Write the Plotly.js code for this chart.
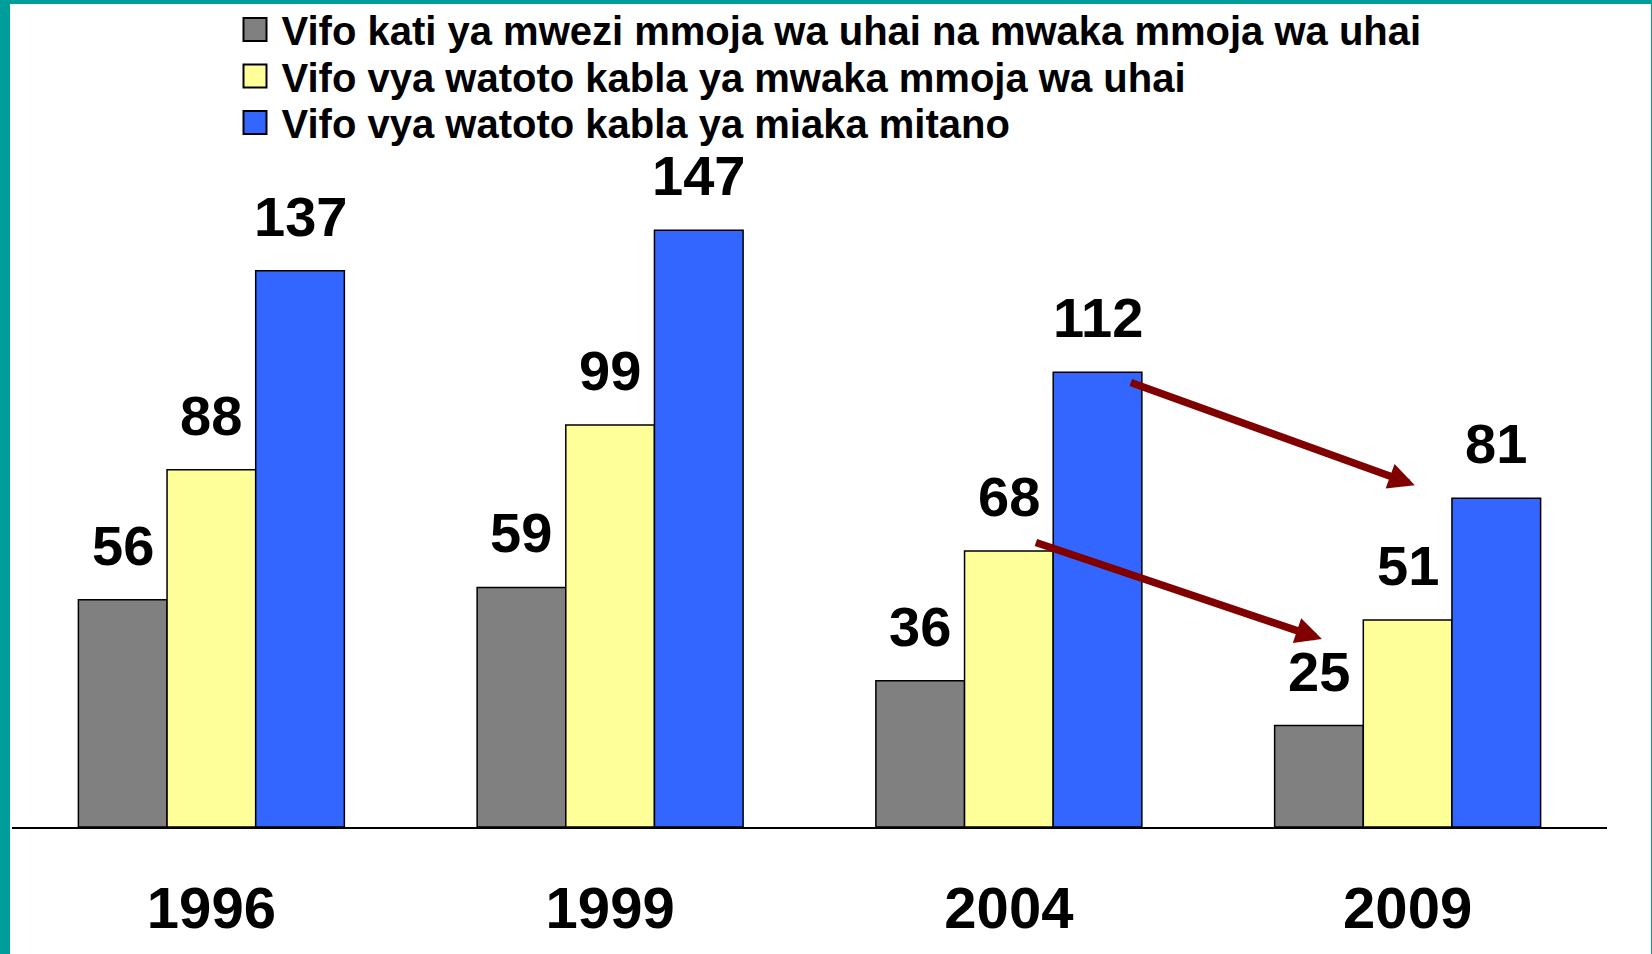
<!DOCTYPE html>
<html>
<head>
<meta charset="utf-8">
<script src="https://cdn.plot.ly/plotly-3.0.1.min.js"></script>
<style>
  html, body { margin: 0; padding: 0; background: #ffffff; }
  #frame { position: absolute; left: 0; top: 0; width: 1652px; height: 954px; background: #009E9A; }
  #chart { position: absolute; left: 10px; top: 4px; width: 1641px; height: 950px; background: #ffffff; }
</style>
</head>
<body>
<div id="frame"><div id="chart"></div></div>
<script>
// ---- data ----
const years = ['1996', '1999', '2004', '2009'];
const seriesNames = [
  'Vifo kati ya mwezi mmoja wa uhai na mwaka mmoja wa uhai',
  'Vifo vya watoto kabla ya mwaka mmoja wa uhai',
  'Vifo vya watoto kabla ya miaka mitano'
];
const neonatalPostnatal = [56, 59, 36, 25];
const infantMortality = [88, 99, 68, 51];
const underFiveMortality = [137, 147, 112, 81];
const seriesValues = [neonatalPostnatal, infantMortality, underFiveMortality];
const seriesColors = ['#808080', '#FFFF99', '#3366FF'];

// arrows (decorations): tail -> head, in year-slot / value units
const arrowTailX = [2.302, 2.064];
const arrowTailY = [109.6, 70.2];
const arrowHeadX = [3.018, 2.785];
const arrowHeadY = [84.2, 46.3];

const FONT = 'Liberation Sans, Arial, sans-serif';
const slots = years.map((_, i) => i);
const legendIds = ['legend', 'legend2', 'legend3'];
const legendRowY = [25.5, 72, 118.5]; // row centres, px from top of chart div
const PLOT_T = 11, PLOT_H = 812;

const traces = seriesValues.map((vals, i) => ({
  type: 'bar',
  name: seriesNames[i],
  x: slots,
  y: vals,
  legend: legendIds[i],
  marker: { color: seriesColors[i], line: { color: '#000000', width: 1.5 } },
  hoverinfo: 'skip'
}));

const barPx = 398.75 * (1 - 0.333) / 3;
const annotations = [];
seriesValues.forEach((vals, i) => {
  vals.forEach((v, j) => {
    annotations.push({
      x: slots[j], y: v, xref: 'x', yref: 'y',
      text: String(v), showarrow: false,
      xshift: (i - 1) * barPx, yshift: 21, yanchor: 'bottom',
      font: { family: FONT, size: 56, color: '#000000', weight: 700 }
    });
  });
});
arrowTailX.forEach((tx, k) => {
  annotations.push({
    x: arrowHeadX[k], y: arrowHeadY[k], xref: 'x', yref: 'y',
    ax: tx, ay: arrowTailY[k], axref: 'x', ayref: 'y',
    text: '', showarrow: true, arrowhead: 2, arrowsize: 0.7,
    arrowwidth: 7.5, arrowcolor: '#800000', standoff: 0
  });
});

const layout = {
  width: 1641, height: 950,
  margin: { l: 2, r: 44, t: PLOT_T, b: 950 - PLOT_T - PLOT_H, autoexpand: false },
  paper_bgcolor: '#ffffff', plot_bgcolor: '#ffffff',
  barmode: 'group', bargap: 0.333, bargroupgap: 0,
  showlegend: true,
  xaxis: {
    type: 'linear', range: [-0.5, years.length - 0.5],
    tickmode: 'array', tickvals: slots, ticktext: years,
    showline: true, linecolor: '#000000', linewidth: 2,
    showgrid: false, zeroline: false, ticks: '', ticklabelstandoff: 29,
    tickfont: { family: FONT, size: 58, color: '#000000', weight: 700 },
    fixedrange: true
  },
  yaxis: { range: [0, 200], visible: false, fixedrange: true },
  annotations: annotations
};
legendIds.forEach((id, i) => {
  layout[id] = {
    x: (218.5 - 2) / 1595, xanchor: 'left', xref: 'paper',
    y: 1 - (legendRowY[i] - PLOT_T) / PLOT_H, yanchor: 'middle', yref: 'paper',
    itemwidth: 43,
    font: { family: FONT, size: 40, color: '#000000', weight: 700 },
    bgcolor: 'rgba(0,0,0,0)', itemclick: false
  };
});

Plotly.newPlot('chart', traces, layout, { displayModeBar: false, staticPlot: true }).then(() => {
  document.querySelectorAll('#chart .legendpoints path').forEach(p => {
    p.setAttribute('d', 'M11.5,11.5H-11.5V-11.5H11.5Z');
    p.style.strokeWidth = '2px';
  });
});
</script>
</body>
</html>
